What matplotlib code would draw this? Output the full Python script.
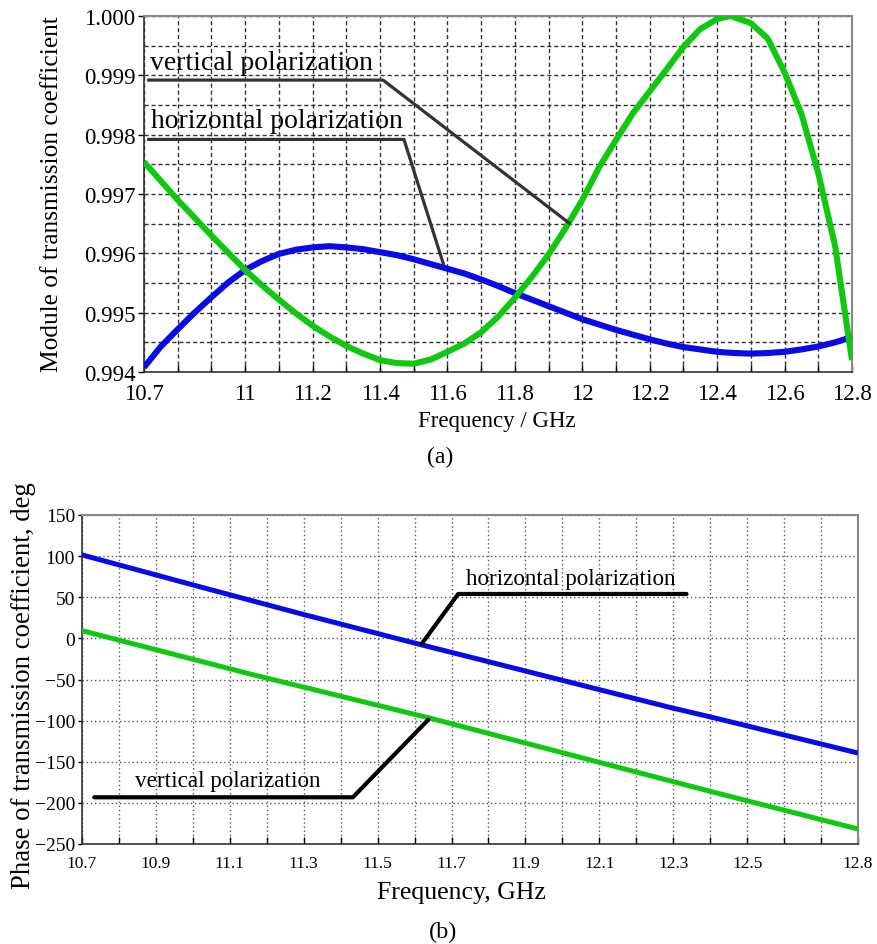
import matplotlib
matplotlib.use('Agg')
import matplotlib.pyplot as plt

plt.rcParams['font.family'] = ['Liberation Serif', 'DejaVu Serif']

# --- (a) modulo do coeficiente de transmissão ---
freq_a_h = [10.7, 10.75, 10.8, 10.85, 10.9, 10.95, 11.0, 11.05, 11.1, 11.15, 11.2, 11.25,
            11.3, 11.35, 11.4, 11.45, 11.5, 11.55, 11.6, 11.65, 11.7, 11.75, 11.8, 11.85,
            11.9, 11.95, 12.0, 12.05, 12.1, 12.15, 12.2, 12.25, 12.3, 12.35, 12.4, 12.45,
            12.5, 12.55, 12.6, 12.65, 12.7, 12.75, 12.8]
mod_h = [0.99408, 0.99443, 0.99472, 0.99500, 0.99526, 0.99551, 0.99572, 0.99587,
         0.99599, 0.99606, 0.99610, 0.99612, 0.99610, 0.99607, 0.99602, 0.99597,
         0.99590, 0.99582, 0.99574, 0.99566, 0.99556, 0.99545, 0.99533, 0.99522,
         0.99511, 0.99500, 0.99489, 0.99480, 0.99471, 0.99463, 0.99455, 0.99448,
         0.99442, 0.99438, 0.99434, 0.99432, 0.99431, 0.99432, 0.99434, 0.99438,
         0.99443, 0.99450, 0.99459]

freq_a_v = [10.7, 10.75, 10.8, 10.85, 10.9, 10.95, 11.0, 11.05, 11.1, 11.15, 11.2, 11.25,
            11.3, 11.35, 11.4, 11.45, 11.5, 11.55, 11.6, 11.65, 11.7, 11.75, 11.8, 11.85,
            11.9, 11.95, 12.0, 12.05, 12.1, 12.15, 12.2, 12.25, 12.3, 12.35, 12.4, 12.44,
            12.5, 12.55, 12.6, 12.65, 12.7, 12.75, 12.8]
mod_v = [0.99754, 0.99722, 0.99690, 0.99660, 0.99630, 0.99601, 0.99572, 0.99546,
         0.99522, 0.99499, 0.99478, 0.99460, 0.99444, 0.99431, 0.99420, 0.99415,
         0.99414, 0.99421, 0.99434, 0.99448, 0.99467, 0.99493, 0.99525, 0.99560,
         0.99598, 0.99642, 0.99690, 0.99745, 0.99791, 0.99836, 0.99873, 0.99910,
         0.99948, 0.99978, 0.99995, 1.00000, 0.99988, 0.99962, 0.99905, 0.99835,
         0.99735, 0.99612, 0.99420]

# linhas de anotação (a)
ann_a_v_x = [10.714, 11.409, 11.961]
ann_a_v_y = [0.99892, 0.99892, 0.99651]
ann_a_h_x = [10.714, 11.471, 11.588]
ann_a_h_y = [0.99792, 0.99792, 0.99582]

# --- (b) fase do coeficiente de transmissão ---
freq_b_h = [10.7, 11.0, 11.3, 11.62, 12.0, 12.29, 12.41, 12.8]
fase_h = [101.5, 65.0, 29.0, -8.0, -51.0, -83.8, -96.5, -139.4]

freq_b_v = [10.7, 11.155, 11.642, 12.0, 12.409, 12.8]
fase_v = [9.4, -43.3, -97.0, -139.0, -187.0, -231.8]

ann_b_h_x = [11.619, 11.718, 12.336]
ann_b_h_y = [-6.8, 54.0, 54.0]
ann_b_v_x = [10.733, 11.433, 11.637]
ann_b_v_y = [-193.2, -193.2, -98.9]

ticks_a = [10.7, 11.0, 11.2, 11.4, 11.6, 11.8, 12.0, 12.2, 12.4, 12.6, 12.8]
rotulos_a = ['10.7', '11', '11.2', '11.4', '11.6', '11.8', '12', '12.2', '12.4', '12.6', '12.8']
ticks_b = [10.7, 10.9, 11.1, 11.3, 11.5, 11.7, 11.9, 12.1, 12.3, 12.5, 12.8]
rotulos_b = ['10.7', '10.9', '11.1', '11.3', '11.5', '11.7', '11.9', '12.1', '12.3', '12.5', '12.8']
grade_x = [round(10.7 + 0.1 * i, 1) for i in range(22)]

AZUL = '#0a0ae6'
VERDE = '#10c810'

fig = plt.figure(figsize=(8.77, 9.45), dpi=100)
W, H = 877, 945


def estilo_eixos(ax, dashes, cor_grade):
    for lado in ['left', 'bottom']:
        ax.spines[lado].set_color('#333333')
        ax.spines[lado].set_linewidth(1.2)
    for lado in ['top', 'right']:
        ax.spines[lado].set_color('#888888')
        ax.spines[lado].set_linewidth(1.5)
    ax.grid(True, which='both', color=cor_grade, linewidth=1.0, linestyle=(0, dashes))
    ax.set_axisbelow(True)


# ---------------- (a) ----------------
ax1 = fig.add_axes([144 / W, 1 - 373 / H, (852 - 144) / W, (373 - 17) / H])
ax1.plot(freq_a_h, mod_h, color=AZUL, lw=4.4, solid_capstyle='butt',
         solid_joinstyle='round', zorder=3)
ax1.plot(freq_a_v, mod_v, color=VERDE, lw=4.4, solid_capstyle='butt',
         solid_joinstyle='round', zorder=3)
ax1.plot(ann_a_v_x, ann_a_v_y, color='#333333', lw=2.3, zorder=4)
ax1.plot(ann_a_h_x, ann_a_h_y, color='#333333', lw=2.3, zorder=4)
ax1.text(10.718, 0.99911, 'vertical polarization', fontsize=20, va='baseline', ha='left')
ax1.text(10.721, 0.99813, 'horizontal polarization', fontsize=20, va='baseline', ha='left')

ax1.set_xlim(10.7, 12.8)
ax1.set_ylim(0.994, 1.000)
ax1.set_xticks(ticks_a, rotulos_a)
ax1.set_xticks([g for g in grade_x if g not in ticks_a], minor=True)
ax1.set_yticks([0.994, 0.995, 0.996, 0.997, 0.998, 0.999, 1.000],
               ['0.994', '0.995', '0.996', '0.997', '0.998', '0.999', '1.000'])
ax1.set_yticks([0.9945, 0.9955, 0.9965, 0.9975, 0.9985, 0.9995], minor=True)
ax1.tick_params(axis='x', which='both', direction='in', length=5, width=1, pad=8, labelsize=16.5)
ax1.tick_params(axis='y', which='major', direction='out', length=4, width=1, pad=2, labelsize=16.5)
ax1.tick_params(axis='y', which='minor', length=0)
estilo_eixos(ax1, (3, 2), '#333333')

fig.text(52 / W, 1 - 194 / H, 'Module of transmission coefficient', rotation=90,
         fontsize=18.3, ha='center', va='center')
fig.text(497 / W, 1 - 421 / H, 'Frequency / GHz', fontsize=16.5, ha='center', va='center')
fig.text(440 / W, 1 - 457 / H, '(a)', fontsize=17, ha='center', va='center')

# ---------------- (b) ----------------
ax2 = fig.add_axes([82 / W, 1 - 845 / H, (858 - 82) / W, (845 - 516) / H])
ax2.plot(freq_b_h, fase_h, color=AZUL, lw=3.6, solid_capstyle='butt',
         solid_joinstyle='round', zorder=3)
ax2.plot(freq_b_v, fase_v, color=VERDE, lw=3.6, solid_capstyle='butt',
         solid_joinstyle='round', zorder=3)
ax2.plot(ann_b_h_x, ann_b_h_y, color='black', lw=3.0, solid_capstyle='round', zorder=4)
ax2.plot(ann_b_v_x, ann_b_v_y, color='black', lw=3.0, solid_capstyle='round', zorder=4)
ax2.text(11.739, 66.1, 'horizontal polarization', fontsize=16.7, va='baseline', ha='left')
ax2.text(10.843, -179.9, 'vertical polarization', fontsize=16.7, va='baseline', ha='left')

ax2.set_xlim(10.7, 12.8)
ax2.set_ylim(-250, 150)
ax2.set_xticks(ticks_b, rotulos_b)
ax2.set_xticks([g for g in grade_x if g not in ticks_b], minor=True)
ax2.set_yticks(list(range(-250, 151, 50)))
ax2.tick_params(axis='x', which='both', direction='in', length=5, width=1, pad=8, labelsize=12.5)
ax2.tick_params(axis='y', direction='out', length=3, width=1, pad=2, labelsize=14)
estilo_eixos(ax2, (1, 2), '#555555')

fig.text(24 / W, 1 - 686 / H, 'Phase of transmission coefficient, deg', rotation=90,
         fontsize=19.3, ha='center', va='center')
fig.text(461 / W, 1 - 893 / H, 'Frequency, GHz', fontsize=18.5, ha='center', va='center')
fig.text(443 / W, 1 - 932 / H, '(b)', fontsize=17.5, ha='center', va='center')

fig.savefig('out.png', dpi=100)
